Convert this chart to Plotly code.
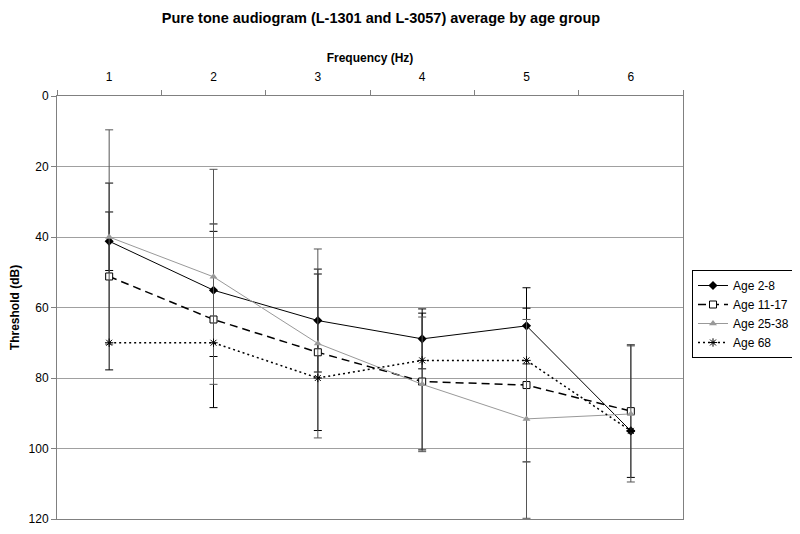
import plotly.graph_objects as go

freq = ["1", "2", "3", "4", "5", "6"]

age_2_8 = [41.2, 55.1, 63.7, 68.9, 65.2, 95.0]
age_2_8_err = [8.3, 18.8, 14.6, 8.5, 10.8, 0.0]

age_11_17 = [51.2, 63.4, 72.7, 81.0, 82.0, 89.4]
age_11_17_err = [26.5, 25.0, 22.2, 19.4, 21.8, 18.8]

age_25_38 = [40.0, 51.3, 70.2, 81.8, 91.6, 90.2]
age_25_38_err = [30.4, 30.5, 26.8, 19.1, 28.2, 19.3]

age_68 = [70.0, 70.0, 80.0, 75.0, 75.0, 95.0]

y_ticks = [0, 20, 40, 60, 80, 100, 120]

FONT = "Liberation Sans, Arial, sans-serif"

# the page body adds an 8px margin, so the figure is sized/offset to compensate
W, H = 792, 526

fig = go.Figure()

fig.add_trace(go.Scatter(
    x=freq, y=age_2_8, name="Age 2-8", mode="lines+markers",
    line=dict(color="black", width=1),
    marker=dict(symbol="diamond", size=7, color="black"),
    error_y=dict(type="data", array=age_2_8_err, symmetric=True,
                 color="black", thickness=1, width=4),
))
fig.add_trace(go.Scatter(
    x=freq, y=age_11_17, name="Age 11-17", mode="lines+markers",
    line=dict(color="black", width=1.5, dash="8px,5px"),
    marker=dict(symbol="square", size=7, color="white",
                line=dict(color="black", width=1)),
    error_y=dict(type="data", array=age_11_17_err, symmetric=True,
                 color="black", thickness=1, width=4),
))
fig.add_trace(go.Scatter(
    x=freq, y=age_25_38, name="Age 25-38", mode="lines+markers",
    line=dict(color="#999999", width=1),
    marker=dict(symbol="triangle-up", size=7, color="#999999"),
    error_y=dict(type="data", array=age_25_38_err, symmetric=True,
                 color="#555555", thickness=1, width=4),
))
fig.add_trace(go.Scatter(
    x=freq, y=age_68, name="Age 68", mode="lines+markers",
    line=dict(color="black", width=1.5, dash="2px,3px"),
    marker=dict(symbol="asterisk", size=7, color="black",
                line=dict(color="black", width=1)),
))

fig.update_layout(
    width=W, height=H,
    paper_bgcolor="white", plot_bgcolor="white",
    margin=dict(l=49, r=117, t=88, b=15, autoexpand=False),
    font=dict(family=FONT, size=12, color="black"),
    title=dict(text="<b>Pure tone audiogram (L-1301 and L-3057) average by age group</b>",
               x=373 / W, xanchor="center", xref="container",
               y=1 - 10 / H, yanchor="middle", yref="container",
               font=dict(family=FONT, size=14.5, color="black")),
    xaxis=dict(
        type="category", side="top", tickson="boundaries",
        range=[-0.5, 5.5], autorange=False,
        ticks="outside", ticklen=5, tickcolor="#808080",
        showline=True, linecolor="#808080", linewidth=1,
        mirror=True, showgrid=False, zeroline=False, automargin=False,
        ticklabelstandoff=9,
        title=dict(text="<b>Frequency (Hz)</b>", standoff=5,
                   font=dict(family=FONT, size=12)),
        tickfont=dict(family=FONT, size=12),
    ),
    yaxis=dict(
        range=[120, 0], tickvals=y_ticks, automargin=False,
        ticks="outside", ticklen=5, tickcolor="#808080",
        showline=True, linecolor="#808080", linewidth=1, mirror=True,
        showgrid=True, gridcolor="#a0a0a0", gridwidth=1, zeroline=False,
        title=dict(text="<b>Threshold (dB)</b>", standoff=7,
                   font=dict(family=FONT, size=12)),
        tickfont=dict(family=FONT, size=12),
    ),
    legend=dict(
        x=684 / W, xref="container", xanchor="left",
        y=1 - 262 / H, yref="container", yanchor="top",
        bordercolor="black", borderwidth=1, bgcolor="white",
        font=dict(family=FONT, size=12), tracegroupgap=0,
        itemwidth=30,
    ),
    showlegend=True,
)

fig.write_html("out.html")
